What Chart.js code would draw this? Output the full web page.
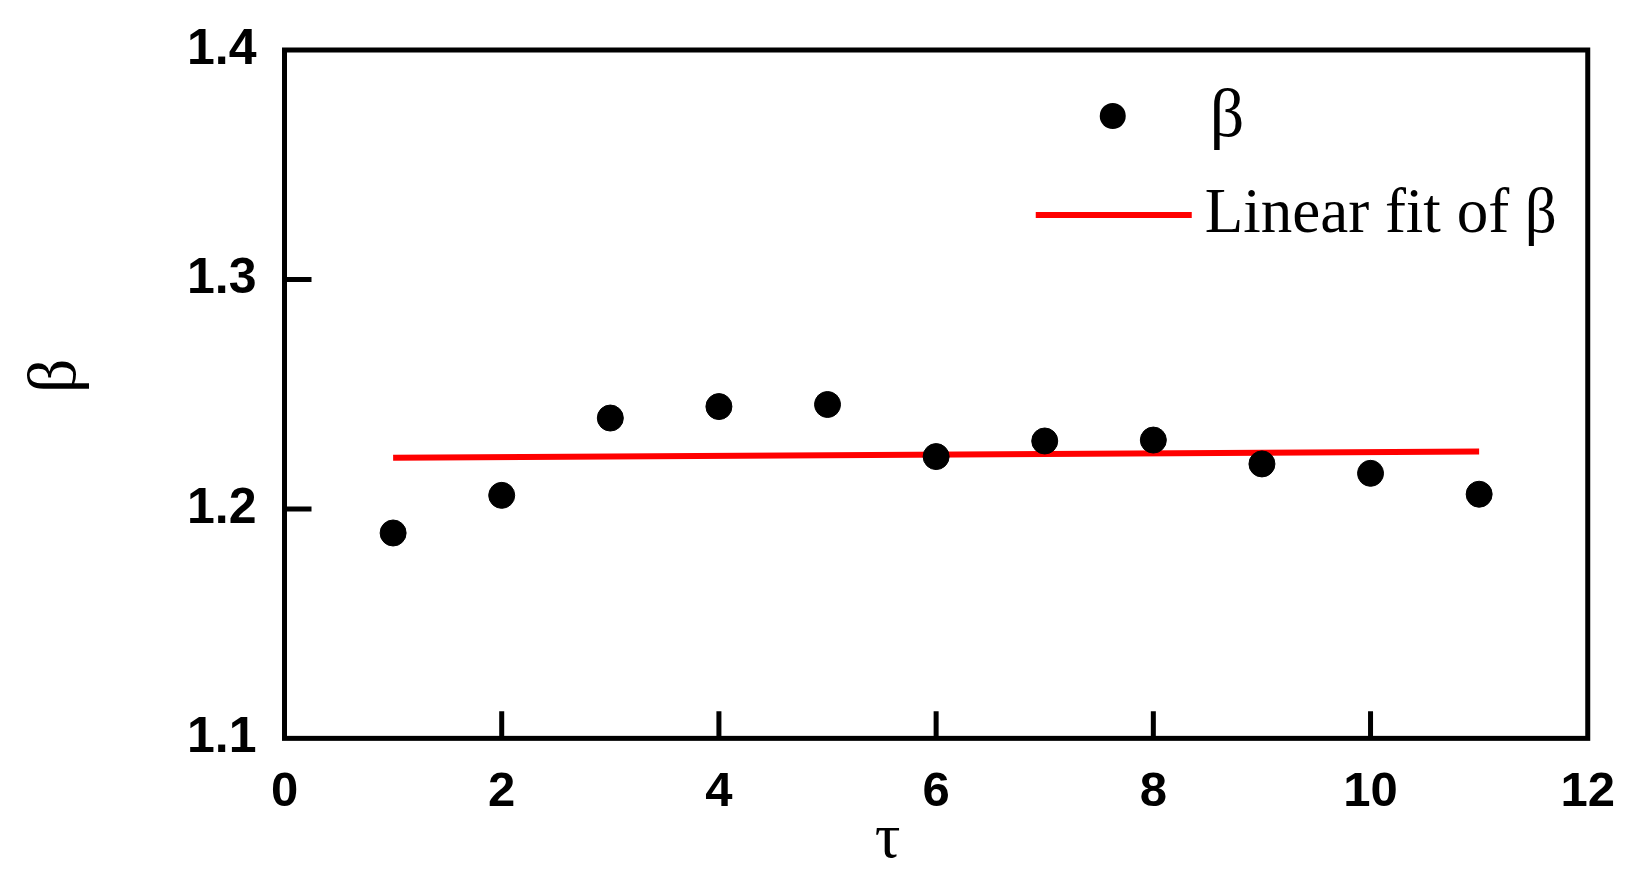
<!DOCTYPE html>
<html>
<head>
<meta charset="utf-8">
<script src="https://cdn.jsdelivr.net/npm/chart.js@4.4.1/dist/chart.umd.min.js"></script>
<style>
  html, body { margin: 0; padding: 0; background: #fff; }
  #wrap { width: 1636px; height: 885px; }
</style>
</head>
<body>
<div id="wrap"><canvas id="betaChart"></canvas></div>
<script>
// values
const tau = [1, 2, 3, 4, 5, 6, 7, 8, 9, 10, 11];
const beta = [1.1895, 1.2059, 1.2396, 1.2446, 1.2455, 1.2228, 1.2296, 1.2300, 1.2196, 1.2155, 1.2064];
const fitTau = [1, 11];
const fitBeta = [1.2223, 1.2250];
const xTicks = [0, 2, 4, 6, 8, 10, 12];
const yTicks = [1.1, 1.2, 1.3, 1.4];

const SERIF = '"Liberation Serif", "Times New Roman", serif';
const SANS = '"Liberation Sans", Arial, sans-serif';
const TICK_LEN = 27;

// box round the plot, ticks pointing inward, axis titles and the in-plot legend
const framePlugin = {
  id: 'frame',
  afterDraw(chart) {
    const { ctx, chartArea: a, scales } = chart;
    ctx.save();
    ctx.strokeStyle = '#000';
    ctx.lineWidth = 5;
    ctx.lineCap = 'butt';
    ctx.strokeRect(a.left, a.top, a.right - a.left, a.bottom - a.top);

    ctx.beginPath();
    xTicks.slice(1, -1).forEach(v => {
      const x = scales.x.getPixelForValue(v);
      ctx.moveTo(x, a.bottom); ctx.lineTo(x, a.bottom - TICK_LEN);
    });
    yTicks.slice(1, -1).forEach(v => {
      const y = scales.y.getPixelForValue(v);
      ctx.moveTo(a.left, y); ctx.lineTo(a.left + TICK_LEN, y);
    });
    ctx.stroke();

    // axis titles
    ctx.fillStyle = '#000';
    ctx.textAlign = 'center';
    ctx.textBaseline = 'middle';
    ctx.font = '64px ' + SERIF;
    ctx.fillText('τ', a.left + 603, a.bottom + 102);
    ctx.save();
    ctx.translate(57, a.top + 326);
    ctx.rotate(-Math.PI / 2);
    ctx.font = '68px ' + SERIF;
    ctx.fillText('β', 0, 0);
    ctx.restore();

    // legend
    const lx = a.right;
    ctx.beginPath();
    ctx.arc(lx - 475, a.top + 66, 13, 0, Math.PI * 2);
    ctx.fill();
    ctx.strokeStyle = '#ff0000';
    ctx.lineWidth = 6;
    ctx.beginPath();
    ctx.moveTo(lx - 552, a.top + 165); ctx.lineTo(lx - 396, a.top + 165);
    ctx.stroke();
    ctx.textAlign = 'left';
    ctx.font = '63px ' + SERIF;
    ctx.fillText('Linear fit of β', lx - 383, a.top + 165);
    ctx.font = '68px ' + SERIF;
    ctx.fillText('β', lx - 378, a.top + 68);
    ctx.restore();
  },
};

const ctx = document.getElementById('betaChart');
new Chart(ctx, {
  type: 'scatter',
  data: {
    datasets: [
      {
        label: 'β',
        data: tau.map((t, i) => ({ x: t, y: beta[i] })),
        backgroundColor: '#000', borderColor: '#000',
        pointRadius: 13, pointHoverRadius: 13,
      },
      {
        type: 'line',
        label: 'Linear fit of β',
        data: fitTau.map((t, i) => ({ x: t, y: fitBeta[i] })),
        borderColor: '#ff0000', borderWidth: 6,
        pointRadius: 0, fill: false,
      },
    ],
  },
  options: {
    responsive: true,
    maintainAspectRatio: false,
    animation: false,
    // scale label padding would otherwise push the box in from the top/right
    layout: { autoPadding: false, padding: { left: 159, right: 48, top: 50, bottom: 38 } },
    plugins: { legend: { display: false }, tooltip: { enabled: false } },
    scales: {
      x: {
        type: 'linear', min: 0, max: 12,
        afterBuildTicks: (s) => { s.ticks = xTicks.map(v => ({ value: v })); },
        grid: { display: false, drawTicks: false },
        border: { display: false },
        ticks: { color: '#000', padding: 21, font: { family: SANS, weight: 'bold', size: 49, lineHeight: 1.36 }, callback: (v) => String(v) },
      },
      y: {
        type: 'linear', min: 1.1, max: 1.4,
        afterBuildTicks: (s) => { s.ticks = yTicks.map(v => ({ value: v })); },
        grid: { display: false, drawTicks: false },
        border: { display: false },
        ticks: { color: '#000', padding: 28, font: { family: SANS, weight: 'bold', size: 50, lineHeight: 0.8 }, callback: (v) => v.toFixed(1) },
      },
    },
  },
  plugins: [framePlugin],
});
</script>
</body>
</html>
